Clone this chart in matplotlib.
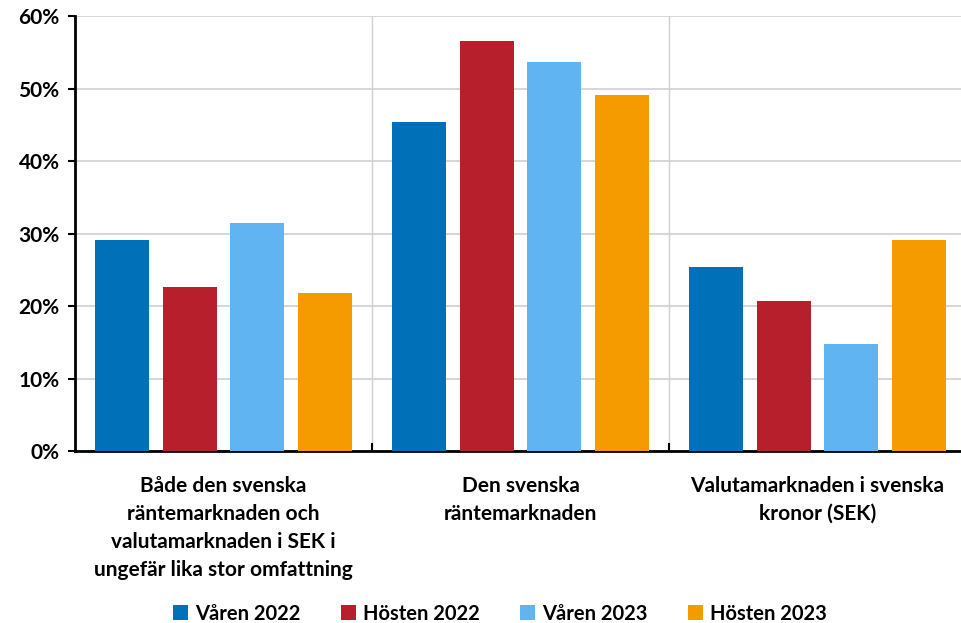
import matplotlib
matplotlib.use("Agg")
import matplotlib.pyplot as plt
from matplotlib.ticker import FuncFormatter, MultipleLocator
from matplotlib.patches import Patch
import numpy as np

categories = ["Både den svenska\nräntemarknaden och\nvalutamarknaden i SEK i\nungefär lika stor omfattning",
              "Den svenska\nräntemarknaden",
              "Valutamarknaden i svenska\nkronor (SEK)"]
series_names = ["Våren 2022", "Hösten 2022", "Våren 2023", "Hösten 2023"]
varen_2022 = [29.1, 45.4, 25.4]
hosten_2022 = [22.6, 56.6, 20.7]
varen_2023 = [31.4, 53.7, 14.8]
hosten_2023 = [21.8, 49.1, 29.1]
colors = ["#0070B8", "#B81F2D", "#61B4F2", "#F59B00"]

plt.rcParams['font.family'] = ['Lato', 'DejaVu Sans']
plt.rcParams['font.weight'] = 'bold'

fig = plt.figure(figsize=(9.61, 6.23), dpi=100)
ax = fig.add_axes([0.078, 0.276, 0.922, 0.698])

x = np.arange(len(categories))
step = 0.227
width = 0.182
all_series = [varen_2022, hosten_2022, varen_2023, hosten_2023]
for i, (vals, c) in enumerate(zip(all_series, colors)):
    ax.bar(x + (i - 1.5) * step, vals, width=width, color=c, zorder=3)

ax.set_ylim(0, 60)
ax.set_xlim(-0.5, 2.483)
ax.yaxis.set_major_locator(MultipleLocator(10))
ax.yaxis.set_major_formatter(FuncFormatter(lambda v, p: f"{int(v)}%"))
ax.grid(axis='y', color='#D0D0D0', linewidth=1.2, zorder=0)
for b in [0.5, 1.5]:
    ax.axvline(b, color='#D0D0D0', linewidth=1.0, zorder=0)

ax.set_xticks(x)
ax.set_xticklabels(categories, fontsize=15, fontweight='bold', linespacing=1.5)
ax.tick_params(axis='x', length=0, pad=18)
ax.set_xticks([0.5, 1.5], minor=True)
ax.tick_params(axis='x', which='minor', direction='in', length=6, width=1.5, color='black')
ax.tick_params(axis='y', labelsize=15, length=5, width=1.5, direction='out', pad=6)
for lbl in ax.get_yticklabels():
    lbl.set_fontweight('bold')

for s in ['top', 'right']:
    ax.spines[s].set_visible(False)
ax.spines['left'].set_linewidth(2)
ax.spines['bottom'].set_linewidth(2)

handles = [Patch(facecolor=c, label=n) for c, n in zip(colors, series_names)]
fig.legend(handles=handles, loc='lower center', bbox_to_anchor=(0.52, -0.03), ncol=4,
           frameon=False, handlelength=0.75, handleheight=0.75,
           handletextpad=0.35, columnspacing=2.0, prop={'weight': 'bold', 'size': 14.5})

fig.savefig("out.png", dpi=100)
